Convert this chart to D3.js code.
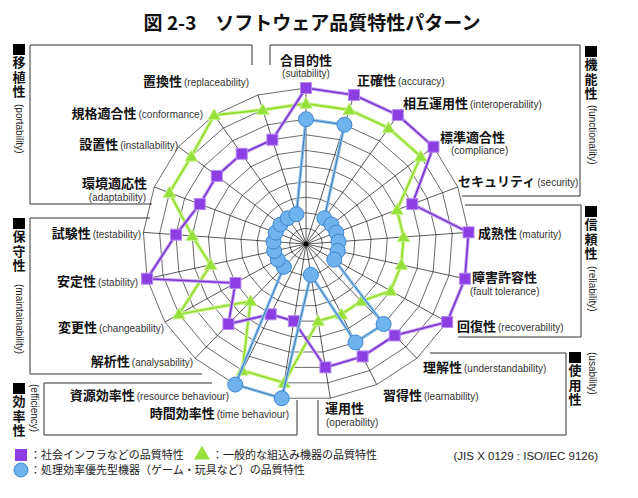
<!DOCTYPE html>
<html>
<head>
<meta charset="utf-8">
<script src="https://cdn.jsdelivr.net/npm/d3@7"></script>
<style>
  body { margin: 0; background: #fff; }
  svg { display: block; }
  .jp { font-family: "Noto Sans CJK JP", sans-serif; }
  .en { font-family: "Liberation Sans", Arial, sans-serif; }
  .vert { writing-mode: vertical-rl; text-orientation: upright; }
</style>
</head>
<body>
<svg id="chart" width="638" height="498"></svg>
<script>
// axes (21 quality sub-characteristics), clockwise from top
var axesJp = ["合目的性", "正確性", "相互運用性", "標準適合性", "セキュリティ", "成熟性", "障害許容性",
  "回復性", "理解性", "習得性", "運用性", "時間効率性", "資源効率性", "解析性", "変更性",
  "安定性", "試験性", "環境適応性", "設置性", "規格適合性", "置換性"];
var axesEn = ["suitability", "accuracy", "interoperability", "compliance", "security", "maturity",
  "fault tolerance", "recoverability", "understandability", "learnability", "operability",
  "time behaviour", "resource behaviour", "analysability", "changeability", "stability",
  "testability", "adaptability", "installability", "conformance", "replaceability"];

var levels = [1, 2, 3, 4, 5, 6, 7, 8, 9, 10];

// series values (0-10)
var infraValues    = [10, 10, 10, 10, 7, 10, 10, 10, 8, 8, 8, 5, 5, 7, 5, 10, 8, 7, 7, 7, 7];
var embeddedValues = [9, 9, 9, 9, 6, 6, 6, 6, 5, 5, 5, 9, 9, 5, 9, 6, 7, 9, 9, 10, 9];
var gameValues     = [8, 8, 2, 2, 2, 2, 2, 2, 7, 7, 2, 10, 10, 2, 2, 2, 2, 2, 2, 2, 2];

var legendLabels = ["：社会インフラなどの品質特性", "：一般的な組込み機器の品質特性",
  "：処理効率優先型機器（ゲーム・玩具など）の品質特性"];

// label layout: x, y (baseline), anchor, second line position for two-line labels
var labelLayout = [
  {x: 306, y: 65, a: "middle", ex: 306, ey: 77},
  {x: 357, y: 85, a: "start"},
  {x: 403, y: 108, a: "start"},
  {x: 440, y: 142, a: "start", ex: 451, ey: 154},
  {x: 458, y: 186, a: "start"},
  {x: 478, y: 238, a: "start"},
  {x: 472, y: 282, a: "start", ex: 470, ey: 295},
  {x: 457, y: 331, a: "start"},
  {x: 423, y: 372, a: "start"},
  {x: 383, y: 400, a: "start"},
  {x: 325, y: 413, a: "start", ex: 326, ey: 426},
  {x: 289, y: 418, a: "end"},
  {x: 229, y: 400, a: "end"},
  {x: 193, y: 366, a: "end"},
  {x: 164, y: 332, a: "end"},
  {x: 138, y: 286, a: "end"},
  {x: 141, y: 238, a: "end"},
  {x: 147, y: 188, a: "end", ex: 146, ey: 201},
  {x: 178, y: 149, a: "end"},
  {x: 203, y: 118, a: "end"},
  {x: 249, y: 86, a: "end"}
];

var svg = d3.select("#chart");
var cx = 306, cy = 244, yRatio = 0.957;
var n = axesJp.length;
var r = d3.scaleLinear().domain([0, 10]).range([0, 163]);
var angle = d3.scaleLinear().domain([0, n]).range([-Math.PI / 2, 1.5 * Math.PI]);

function pt(i, v) {
  var a = angle(i);
  return [cx + r(v) * Math.cos(a), cy + r(v) * Math.sin(a) * yRatio];
}

// title
svg.append("text").attr("class", "jp")
  .attr("x", 312).attr("y", 30).attr("text-anchor", "middle")
  .attr("font-size", 19).attr("font-weight", "bold").attr("fill", "#111")
  .text("図 2-3　ソフトウェア品質特性パターン");

// grouping brackets
var boxes = [
  "M252,65 V45 H30 V204 H152",
  "M270,65 V45 H580 V196 H462",
  "M465,205 H581 V337 H458",
  "M150,218 H30 V374 H202",
  "M212,383 H44 V435 H297 V400",
  "M430,353 H566 V435 H318 V400"
];
svg.append("g").selectAll("path").data(boxes).join("path")
  .attr("d", function (d) { return d; })
  .attr("fill", "none").attr("stroke", "#333").attr("stroke-width", 1);

// group titles (vertical)
var groups = [
  {x: 19, y: 44, jp: "移植性", en: "(portability)", ex: 19, ey: 104},
  {x: 19, y: 218, jp: "保守性", en: "(maintainability)", ex: 19, ey: 284},
  {x: 19, y: 383, jp: "効率性", en: "(efficiency)", ex: 34, ey: 384},
  {x: 591, y: 46, jp: "機能性", en: "(functionality)", ex: 592, ey: 105},
  {x: 591, y: 206, jp: "信頼性", en: "(reliability)", ex: 592, ey: 266},
  {x: 575, y: 352, jp: "使用性", en: "(usability)", ex: 592, ey: 352}
];
var gg = svg.append("g").selectAll("g").data(groups).join("g");
gg.append("rect")
  .attr("x", function (d) { return d.x - 6; }).attr("y", function (d) { return d.y; })
  .attr("width", 12).attr("height", 11).attr("fill", "#000");
gg.append("text").attr("class", "jp vert")
  .attr("x", function (d) { return d.x; }).attr("y", function (d) { return d.y + 12; })
  .attr("font-size", 13).attr("font-weight", "bold").attr("letter-spacing", 1.5)
  .attr("fill", "#111").text(function (d) { return d.jp; });
gg.append("text").attr("class", "en")
  .attr("transform", function (d) { return "translate(" + (d.ex - 3.5) + "," + d.ey + ") rotate(90)"; })
  .attr("font-size", 10).attr("fill", "#222").text(function (d) { return d.en; });

// grid rings (21-gons)
var grid = svg.append("g");
grid.selectAll("path.ring").data(levels).join("path").attr("class", "ring")
  .attr("d", function (lv) {
    return d3.line()(d3.range(n).map(function (i) { return pt(i, lv); })) + "Z";
  })
  .attr("fill", "none").attr("stroke", "#2a2a2a").attr("stroke-width", 0.7);
grid.selectAll("line").data(d3.range(n)).join("line")
  .attr("x1", cx).attr("y1", cy)
  .attr("x2", function (i) { return pt(i, 10)[0]; })
  .attr("y2", function (i) { return pt(i, 10)[1]; })
  .attr("stroke", "#111").attr("stroke-width", 0.7);
grid.append("circle").attr("cx", cx).attr("cy", cy).attr("r", 2.5).attr("fill", "#000");

// axis labels
var lab = svg.append("g").selectAll("text").data(axesJp).join("text");
lab.each(function (d, i) {
  var L = labelLayout[i];
  var t = d3.select(this).attr("x", L.x).attr("y", L.y).attr("text-anchor", L.a);
  t.append("tspan").attr("class", "jp").attr("font-size", 13).attr("font-weight", "bold")
    .attr("fill", "#111").text(d);
  if (L.ey !== undefined) {
    svg.append("text").attr("class", "en").attr("x", L.ex).attr("y", L.ey)
      .attr("text-anchor", L.a).attr("font-size", 10).attr("fill", "#333")
      .text("(" + axesEn[i] + ")");
  } else {
    t.append("tspan").attr("class", "en").attr("dx", 2).attr("font-size", 10)
      .attr("fill", "#333").text("(" + axesEn[i] + ")");
  }
});

// series
function seriesPath(vals) {
  return d3.line()(vals.map(function (v, i) { return pt(i, v); })) + "Z";
}
var triangle = d3.symbol().type(d3.symbolTriangle).size(70);

// embedded (green)
var gs = svg.append("g");
gs.append("path").attr("d", seriesPath(embeddedValues)).attr("fill", "none")
  .attr("stroke", "#d4f5a0").attr("stroke-width", 4).attr("stroke-linejoin", "round");
gs.append("path").attr("d", seriesPath(embeddedValues)).attr("fill", "none")
  .attr("stroke", "#8fdc2a").attr("stroke-width", 1.6).attr("stroke-linejoin", "round");
gs.selectAll("path.m").data(embeddedValues).join("path").attr("class", "m")
  .attr("transform", function (v, i) { var p = pt(i, v); return "translate(" + p[0] + "," + (p[1] + 1) + ")"; })
  .attr("d", triangle).attr("fill", "#95e03a").attr("stroke", "#c8f28a").attr("stroke-width", 1);

// infrastructure (purple)
var ps = svg.append("g");
ps.append("path").attr("d", seriesPath(infraValues)).attr("fill", "none")
  .attr("stroke", "#c7a6f2").attr("stroke-width", 3.5).attr("stroke-linejoin", "round");
ps.append("path").attr("d", seriesPath(infraValues)).attr("fill", "none")
  .attr("stroke", "#7a35cf").attr("stroke-width", 1.6).attr("stroke-linejoin", "round");
ps.selectAll("rect").data(infraValues).join("rect")
  .attr("x", function (v, i) { return pt(i, v)[0] - 5.5; })
  .attr("y", function (v, i) { return pt(i, v)[1] - 5.5; })
  .attr("width", 11).attr("height", 11)
  .attr("fill", "#8c3ee3").attr("stroke", "#b68af0").attr("stroke-width", 1);

// game (blue)
var bs = svg.append("g");
bs.append("path").attr("d", seriesPath(gameValues)).attr("fill", "none")
  .attr("stroke", "#8cc4f2").attr("stroke-width", 3.2).attr("stroke-linejoin", "round");
bs.append("path").attr("d", seriesPath(gameValues)).attr("fill", "none")
  .attr("stroke", "#3b6fa6").attr("stroke-width", 0.9).attr("stroke-linejoin", "round");
bs.selectAll("circle").data(gameValues).join("circle")
  .attr("cx", function (v, i) { return pt(i, v)[0]; })
  .attr("cy", function (v, i) { return pt(i, v)[1]; })
  .attr("r", 7.5).attr("fill", "#6eb2ee").attr("stroke", "#3e86cf").attr("stroke-width", 1);

// legend
var lg = svg.append("g");
lg.append("rect").attr("x", 15).attr("y", 449).attr("width", 12).attr("height", 12).attr("fill", "#8c3ee3");
lg.append("path").attr("transform", "translate(202,455)")
  .attr("d", d3.symbol().type(d3.symbolTriangle).size(110)).attr("fill", "#95e03a");
lg.append("circle").attr("cx", 21).attr("cy", 470).attr("r", 7).attr("fill", "#6eb2ee").attr("stroke", "#3e86cf");
[[30, 459], [212, 459], [30, 474]].forEach(function (p, k) {
  lg.append("text").attr("class", "jp").attr("x", p[0]).attr("y", p[1])
    .attr("font-size", 11).attr("fill", "#222").text(legendLabels[k]);
});
lg.append("text").attr("class", "en").attr("x", 598).attr("y", 460).attr("text-anchor", "end")
  .attr("font-size", 11.5).attr("fill", "#222").text("(JIS X 0129 : ISO/IEC 9126)");
</script>
</body>
</html>
